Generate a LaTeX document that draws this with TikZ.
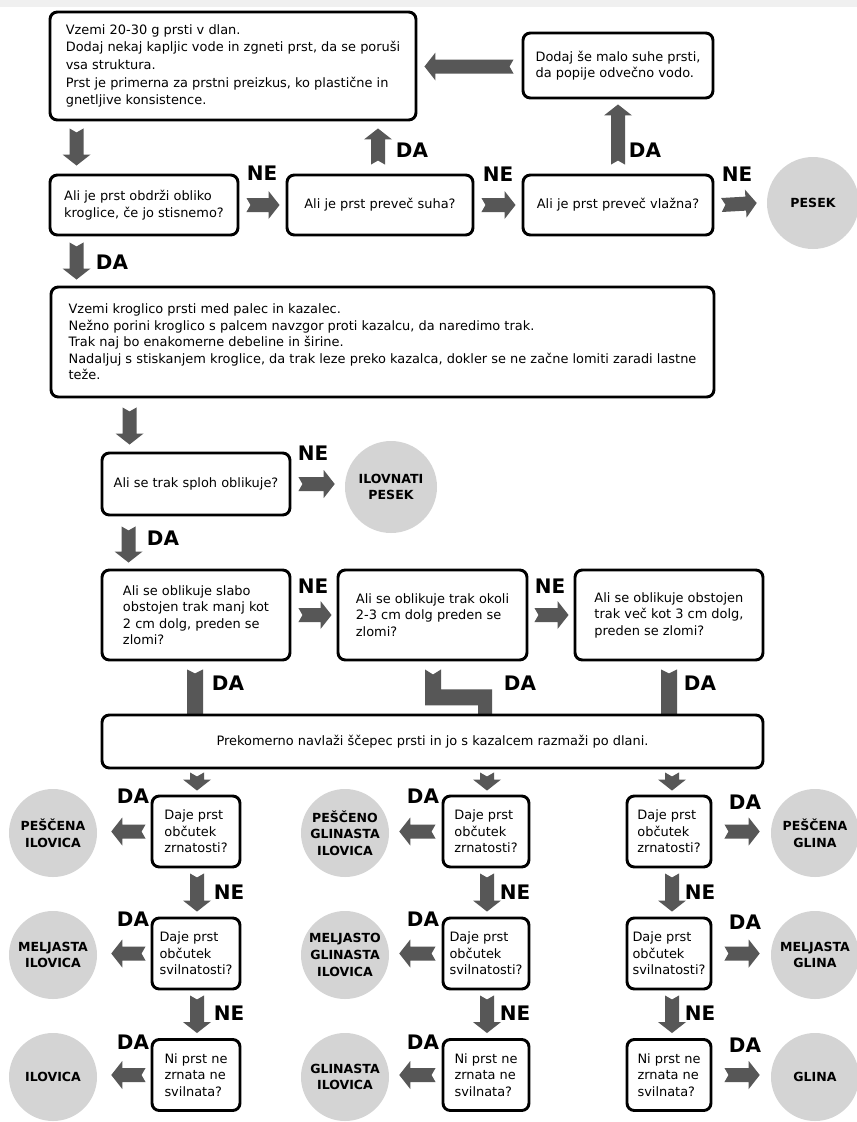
\documentclass[tikz,border=0pt]{standalone}
\usepackage{fontspec}
\setmainfont{DejaVu Sans}
\usetikzlibrary{calc,backgrounds}
\definecolor{arrowgray}{RGB}{87,87,87}
\definecolor{circgray}{RGB}{212,212,212}
\definecolor{bandgray}{RGB}{240,240,240}
\newcommand\txtfont{\fontsize{9.7pt}{12.4pt}\selectfont}
\newcommand\lblfont{\fontsize{15pt}{16pt}\selectfont\bfseries}
\newcommand\resfont{\fontsize{9.4pt}{12.5pt}\selectfont\bfseries}
\newcommand\arrBody{5.25pt}
\newcommand\arrHead{10.5pt}
\newcommand\arrLen{8.25pt}
\newcommand\arrNotch{3pt}
\newcommand\barHalf{6pt}
\newcommand\blockarrow[2]{%
  \fill[arrowstyle] let \p1=(#1), \p2=(#2),
    \n1={veclen(\x2-\x1,\y2-\y1)}, \n2={(\x2-\x1)/\n1}, \n3={(\y2-\y1)/\n1} in
    ({\x1-\arrBody*(\n3)},{\y1+\arrBody*(\n2)})
    -- ({\x1+\arrNotch*(\n2)},{\y1+\arrNotch*(\n3)})
    -- ({\x1+\arrBody*(\n3)},{\y1-\arrBody*(\n2)})
    -- ({\x2-\arrLen*(\n2)+\arrBody*(\n3)},{\y2-\arrLen*(\n3)-\arrBody*(\n2)})
    -- ({\x2-\arrLen*(\n2)+\arrHead*(\n3)},{\y2-\arrLen*(\n3)-\arrHead*(\n2)})
    -- (\p2)
    -- ({\x2-\arrLen*(\n2)-\arrHead*(\n3)},{\y2-\arrLen*(\n3)+\arrHead*(\n2)})
    -- ({\x2-\arrLen*(\n2)-\arrBody*(\n3)},{\y2-\arrLen*(\n3)+\arrBody*(\n2)})
    -- cycle;}
\newcommand\blockbar[2]{%
  \fill[arrowstyle] let \p1=(#1), \p2=(#2),
    \n1={veclen(\x2-\x1,\y2-\y1)}, \n2={(\x2-\x1)/\n1}, \n3={(\y2-\y1)/\n1} in
    ({\x1-\barHalf*(\n3)},{\y1+\barHalf*(\n2)})
    -- ({\x1+\arrNotch*(\n2)},{\y1+\arrNotch*(\n3)})
    -- ({\x1+\barHalf*(\n3)},{\y1-\barHalf*(\n2)})
    -- ({\x2+\barHalf*(\n3)},{\y2-\barHalf*(\n2)})
    -- ({\x2-\barHalf*(\n3)},{\y2+\barHalf*(\n2)})
    -- cycle;}
\tikzset{
  box/.style={draw=black, line width=2.2pt, rounded corners=5.5pt, fill=white,
    inner sep=0pt, align=left, font=\txtfont},
  res/.style={circle, fill=circgray, inner sep=0pt, minimum size=#1,
    align=center, font=\resfont},
  res/.default=66pt,
  yn/.style={inner sep=0pt, font=\lblfont},
  arrowstyle/.style={fill=arrowgray, draw=none},
}
\begin{document}
\begin{tikzpicture}[x=0.75pt,y=-0.75pt]
\useasboundingbox (0,0) rectangle (857,1122);
% ---- top part
\node[box, minimum width=274.5pt, minimum height=81pt,
  font=\fontsize{9.7pt}{13.2pt}\selectfont] (b1) at (233,66)
  {Vzemi 20-30 g prsti v dlan.\\
   Dodaj nekaj kapljic vode in zgneti prst, da se poruši\\
   vsa struktura.\\
   Prst je primerna za prstni preizkus, ko plastične in\\
   gnetljive konsistence.};
\node[box, minimum width=142.5pt, minimum height=48.75pt] (b2) at (618,65.5)
  {Dodaj še malo suhe prsti,\\ da popije odvečno vodo.};
\node[box, minimum width=141pt, minimum height=45pt] (q1) at (144,205)
  {Ali je prst obdrži obliko\\ kroglice, če jo stisnemo?};
\node[box, minimum width=139.5pt, minimum height=45pt] (q2) at (380,205)
  {Ali je prst preveč suha?};
\node[box, minimum width=142.5pt, minimum height=45pt] (q3) at (618,205)
  {Ali je prst preveč vlažna?};
\node[res=69pt] (pesek) at (813,203) {PESEK};
\node[box, minimum width=497.25pt, minimum height=82.5pt] (b3) at (382.5,342)
  {Vzemi kroglico prsti med palec in kazalec.\\
   Nežno porini kroglico s palcem navzgor proti kazalcu, da naredimo trak.\\
   Trak naj bo enakomerne debeline in širine.\\
   Nadaljuj s stiskanjem kroglice, da trak leze preko kazalca, dokler se ne začne lomiti zaradi lastne\\
   teže.};
\node[box, minimum width=141pt, minimum height=46.5pt] (q4) at (196,484)
  {Ali se trak sploh oblikuje?};
\node[res=69pt] (ilp) at (391,487) {ILOVNATI\\PESEK};
\node[box, minimum width=141pt, minimum height=67.5pt] (q5) at (196,615)
  {Ali se oblikuje slabo\\ obstojen trak manj kot\\ 2 cm dolg, preden se\\ zlomi?};
\node[box, minimum width=141.75pt, minimum height=67.5pt] (q6) at (432.5,615)
  {Ali se oblikuje trak okoli\\ 2-3 cm dolg preden se\\ zlomi?};
\node[box, minimum width=141pt, minimum height=67.5pt] (q7) at (669,615)
  {Ali se oblikuje obstojen\\ trak več kot 3 cm dolg,\\ preden se zlomi?};
\node[box, minimum width=495.75pt, minimum height=39.75pt, align=center] (b4) at (432.5,741.5)
  {Prekomerno navlaži ščepec prsti in jo s kazalcem razmaži po dlani.};
% ---- bottom columns
\node[box, minimum width=66pt, minimum height=53.25pt] (q8) at (196,831.5) {Daje prst\\ občutek\\ zrnatosti?};
\node[box, minimum width=66pt, minimum height=53.25pt] (q9) at (196,953.5) {Daje prst\\ občutek\\ svilnatosti?};
\node[box, minimum width=66pt, minimum height=53.25pt] (q10) at (196,1075) {Ni prst ne\\ zrnata ne\\ svilnata?};
\node[box, minimum width=64.5pt, minimum height=53.25pt] (q11) at (486,831.5) {Daje prst\\ občutek\\ zrnatosti?};
\node[box, minimum width=64.5pt, minimum height=53.25pt] (q12) at (486,953.5) {Daje prst\\ občutek\\ svilnatosti?};
\node[box, minimum width=64.5pt, minimum height=53.25pt] (q13) at (486,1075) {Ni prst ne\\ zrnata ne\\ svilnata?};
\node[box, minimum width=63pt, minimum height=53.25pt] (q14) at (669,831.5) {Daje prst\\ občutek\\ zrnatosti?};
\node[box, minimum width=63pt, minimum height=53.25pt] (q15) at (669,953.5) {Daje prst\\ občutek\\ svilnatosti?};
\node[box, minimum width=63pt, minimum height=53.25pt] (q16) at (669,1075) {Ni prst ne\\ zrnata ne\\ svilnata?};
\node[res] (c1) at (53,833) {PEŠČENA\\ILOVICA};
\node[res] (c2) at (53,955) {MELJASTA\\ILOVICA};
\node[res] (c3) at (53,1077) {ILOVICA};
\node[res] (c4) at (345,833) {PEŠČENO\\GLINASTA\\ILOVICA};
\node[res] (c5) at (345,955) {MELJASTO\\GLINASTA\\ILOVICA};
\node[res] (c6) at (345,1077) {GLINASTA\\ILOVICA};
\node[res] (c7) at (815,833) {PEŠČENA\\GLINA};
\node[res] (c8) at (815,955) {MELJASTA\\GLINA};
\node[res] (c9) at (815,1077) {GLINA};
% ---- labels
\node[yn] (l1) at (262,173) {NE};
\node[yn] (l2) at (412,150) {DA};
\node[yn] (l3) at (498,174) {NE};
\node[yn] (l4) at (645,150) {DA};
\node[yn] (l5) at (737,174) {NE};
\node[yn] (l6) at (112,262) {DA};
\node[yn] (l7) at (313,453) {NE};
\node[yn] (l8) at (163,538) {DA};
\node[yn] (l9) at (313,586) {NE};
\node[yn] (l10) at (550,586) {NE};
\node[yn] (l11) at (228,683) {DA};
\node[yn] (l12) at (520,683) {DA};
\node[yn] (l13) at (700,683) {DA};
\node[yn] (l14) at (133,796) {DA};
\node[yn] (l15) at (133,919) {DA};
\node[yn] (l16) at (133,1042) {DA};
\node[yn] (l17) at (229,892) {NE};
\node[yn] (l18) at (229,1013) {NE};
\node[yn] (l19) at (423,796) {DA};
\node[yn] (l20) at (423,919) {DA};
\node[yn] (l21) at (423,1042) {DA};
\node[yn] (l22) at (515,892) {NE};
\node[yn] (l23) at (515,1013) {NE};
\node[yn] (l24) at (745,802) {DA};
\node[yn] (l25) at (745,922) {DA};
\node[yn] (l26) at (745,1045) {DA};
\node[yn] (l27) at (700,892) {NE};
\node[yn] (l28) at (700,1013) {NE};
% ---- connectors
\begin{pgfonlayer}{background}
\fill[white] (0,0) rectangle (857,1122);
\fill[bandgray] (0,0) rectangle (857,7);
\blockarrow{$(b1.south west)+(28,7)$}{$(q1.north west)+(28,-8)$}
\blockarrow{$(q1.east)+(7,0)$}{$(q2.west)+(-6,0)$}
\blockarrow{$(q2.north)+(-2,-9)$}{$(q2.north |- b1.south)+(-2,7)$}
\blockarrow{$(q2.east)+(7,0)$}{$(q3.west)+(-6,0)$}
\blockarrow{$(q3.north)+(0,-9)$}{$(b2.south)+(0,5)$}
\blockarrow{$(q3.east)+(7,0)$}{$(pesek.west)+(-10,0)$}
\blockarrow{$(b2.west)+(-8,1)$}{$(b1.east |- b2.west)+(7,1)$}
\blockarrow{$(q1.south west)+(28,6)$}{$(b3.north west)+(27,-6)$}
\blockarrow{$(b3.south west)+(80,9)$}{$(q4.north west)+(29,-7)$}
\blockarrow{$(q4.east)+(7,0)$}{$(ilp.west |- q4.east)+(-10,0)$}
\blockarrow{$(q4.south west)+(28,10)$}{$(q5.north west)+(28,-6)$}
\blockarrow{$(q5.east)+(7,0)$}{$(q6.west)+(-5,0)$}
\blockarrow{$(q6.east)+(6,0)$}{$(q7.west)+(-5,0)$}
\blockbar{$(q5.south)+(-1,8)$}{$(q5.south |- b4.north)+(-1,2)$}
\blockbar{$(q7.south)+(0,8)$}{$(q7.south |- b4.north)+(0,2)$}
\fill[arrowstyle] ($(q6.south)+(-7.5,8)$) -- ++(8,5) -- ++(8,-5) -- ++(0,20)
  -- ++(51,0) -- ++(0,29) -- ++(-14,0) -- ++(0,-13) -- ++(-53,0) -- cycle;
% bottom
\blockarrow{$(q8.north |- b4.south)+(1,3)$}{$(q8.north)+(1,-4)$}
\blockarrow{$(q8.south)+(1,5)$}{$(q9.north)+(1,-5)$}
\blockarrow{$(q9.south)+(1,5)$}{$(q10.north)+(1,-5)$}
\blockarrow{$(q11.north |- b4.south)+(1,3)$}{$(q11.north)+(1,-4)$}
\blockarrow{$(q11.south)+(1,5)$}{$(q12.north)+(1,-5)$}
\blockarrow{$(q12.south)+(1,5)$}{$(q13.north)+(1,-5)$}
\blockarrow{$(q14.north |- b4.south)+(3,3)$}{$(q14.north)+(3,-4)$}
\blockarrow{$(q14.south)+(3,5)$}{$(q15.north)+(3,-5)$}
\blockarrow{$(q15.south)+(3,5)$}{$(q16.north)+(3,-5)$}
\blockarrow{$(q8.west)+(-5,0)$}{$(c1.east |- q8.west)+(14,0)$}
\blockarrow{$(q9.west)+(-5,0)$}{$(c2.east |- q9.west)+(14,0)$}
\blockarrow{$(q10.west)+(-5,0)$}{$(c3.east |- q10.west)+(14,0)$}
\blockarrow{$(q11.west)+(-6,0)$}{$(c4.east |- q11.west)+(10,0)$}
\blockarrow{$(q12.west)+(-6,0)$}{$(c5.east |- q12.west)+(10,0)$}
\blockarrow{$(q13.west)+(-6,0)$}{$(c6.east |- q13.west)+(10,0)$}
\blockarrow{$(q14.east)+(12,0)$}{$(c7.west |- q14.east)+(-11,0)$}
\blockarrow{$(q15.east)+(12,0)$}{$(c8.west |- q15.east)+(-11,0)$}
\blockarrow{$(q16.east)+(12,0)$}{$(c9.west |- q16.east)+(-11,0)$}
\end{pgfonlayer}
\end{tikzpicture}
\end{document}
